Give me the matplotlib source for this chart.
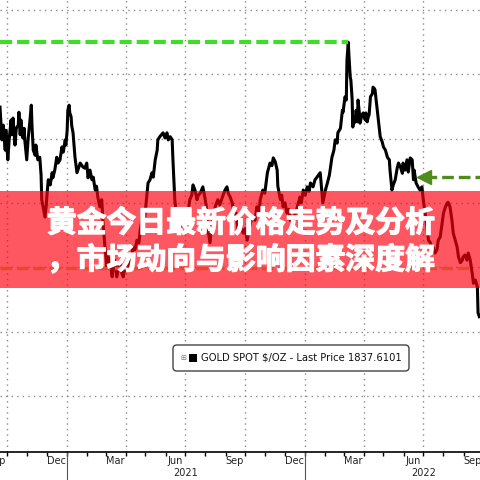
import matplotlib
matplotlib.use('Agg')
import matplotlib.pyplot as plt
import matplotlib.dates as mdates
import matplotlib.ticker as mticker
import matplotlib.patheffects as pe
from matplotlib.patches import Rectangle, FancyBboxPatch
import pandas as pd

# gold spot (days after start, $/oz)
start = pd.Timestamp('2020-09-20')
days = [0, 3, 5, 8, 9, 12, 14, 17, 18, 20, 23, 25, 28, 29, 31, 32, 35, 37, 38, 41,
        43, 46, 48, 49, 51, 54, 55, 58, 61, 63, 64, 67, 69,
        71, 72, 74, 77, 80, 81, 84, 87, 89, 92, 95, 97, 100, 101, 103, 104, 106, 107,
        109, 110, 112, 115, 118, 123,
        127, 130, 133, 135, 138, 141, 143, 146, 148, 150, 153, 156, 158, 161, 164, 166,
        169, 172, 173, 176, 179, 182, 184, 187, 189, 192, 195, 199, 201, 204, 207, 210,
        213, 215, 219, 222, 225, 227, 230, 233, 235, 238, 241, 242, 245,
        250, 253, 256, 258, 261, 264, 265, 268, 272, 273, 276, 279, 281, 284, 287, 291,
        294, 296, 299, 302, 304, 307, 311, 314, 318, 319, 322, 325, 328, 330, 334, 337,
        341, 345, 348, 350, 353, 356, 360, 362, 365,
        368, 370, 373, 376, 379, 382, 384, 388, 391, 394, 397, 399, 403, 406, 410, 414,
        417, 419, 422, 425, 426, 430, 432, 434, 437, 440, 443, 445, 449, 452, 456, 460,
        462, 465, 468, 471, 474, 476, 480, 483, 486, 491,
        495, 499, 502, 505, 509, 512, 514, 517, 518, 522, 525, 526, 529, 531, 532, 534,
        535, 537, 538, 540, 541, 542, 543, 545, 546, 548, 549, 551, 552, 555, 557, 560,
        561, 563, 565, 566, 568, 571, 572, 574, 575, 578, 581, 583, 586, 588, 591, 594,
        597, 598, 601, 603, 606, 609, 611, 614,
        617, 618, 621, 624, 626, 629, 632, 634, 635, 638, 641, 644, 647, 649, 652, 655,
        657, 660, 663, 664, 667, 670, 672, 675, 678, 680, 683, 686, 687, 690, 693, 695,
        698, 701, 703, 706, 709, 710, 713, 716, 718, 721, 724, 726, 729, 732, 733, 735]
prices = [1949, 1898, 1921, 1882, 1913, 1867, 1898, 1929, 1906, 1932, 1890, 1916, 1921, 1941,
          1906, 1929, 1901, 1916, 1898, 1867, 1898, 1929, 1952, 1921, 1882, 1874, 1890, 1867,
          1871, 1843, 1805, 1789, 1778,
          1797, 1812, 1836, 1828, 1847, 1839, 1851, 1871, 1862, 1867, 1887, 1879, 1898, 1890,
          1913, 1944, 1952, 1940, 1934, 1920, 1909, 1871, 1847, 1862,
          1856, 1854, 1862, 1839, 1851, 1836, 1840, 1820, 1826, 1809, 1794, 1805, 1769, 1731,
          1700, 1716, 1707, 1685, 1696, 1711, 1685, 1700, 1707, 1690, 1685, 1703, 1696, 1716,
          1711, 1731, 1727, 1742, 1738, 1758, 1784, 1778, 1809, 1831, 1836, 1847, 1840, 1867,
          1882, 1898, 1903,
          1909, 1901, 1909, 1898, 1903, 1898, 1871, 1805, 1769, 1778, 1758, 1773, 1769, 1784,
          1778, 1805, 1812, 1828, 1820, 1805, 1812, 1815, 1825, 1809, 1784, 1758, 1738, 1769,
          1784, 1794, 1805, 1797, 1809, 1820, 1825, 1815, 1809, 1800, 1778, 1784, 1758,
          1773, 1762, 1753, 1760, 1742, 1758, 1769, 1778, 1773, 1794, 1786, 1805, 1820, 1815,
          1847, 1862, 1858, 1870, 1864, 1851, 1826, 1805, 1812, 1794, 1800, 1784, 1790, 1773,
          1769, 1781, 1794, 1809, 1800, 1820, 1812, 1825, 1818, 1831, 1825, 1836, 1840, 1847,
          1800, 1820, 1831, 1843, 1871, 1882, 1898, 1893, 1909, 1916, 1944, 1941, 1965, 1960,
          2022, 2050, 2030, 1996, 1991, 1960, 1918, 1934, 1924, 1929, 1944, 1926, 1960, 1940,
          1924, 1937, 1940, 1929, 1940, 1926, 1935, 1937, 1965, 1970, 1980, 1978, 1976, 1949,
          1921, 1903, 1895, 1887, 1882, 1871, 1867, 1851, 1820, 1828, 1836, 1854, 1862, 1856,
          1846, 1862, 1851, 1867, 1848, 1870, 1867, 1836, 1851, 1831, 1825, 1820, 1825, 1805,
          1784, 1758, 1742, 1738, 1727, 1731, 1722, 1727, 1742, 1747, 1769, 1784, 1794, 1800,
          1801, 1794, 1773, 1753, 1742, 1731, 1716, 1707, 1711, 1716, 1719, 1711, 1722, 1711,
          1691, 1675, 1680, 1669, 1629, 1623]

end_day = 736
peak_level, peak_day = 2050, 534          # green dashed high
support_level, support_end = 1698, 721    # red dashed low
arrow_level, arrow_tip = 1840, 644        # green arrow

month_labels = ['Sep', 'Dec', 'Mar', 'Jun', 'Sep', 'Dec', 'Mar', 'Jun', 'Sep']
month_pos = ['2020-09-15', '2020-12-15', '2021-03-15', '2021-06-15', '2021-09-15',
             '2021-12-15', '2022-03-15', '2022-06-15', '2022-09-15']
year_labels = ['2021', '2022']
year_pos = ['2021-07-01', '2022-07-01']
year_breaks = ['2021-01-01', '2022-01-01']
legend_text = 'GOLD SPOT $/OZ - Last Price 1837.6101'
title_lines = ['黄金今日最新价格走势及分析', '，市场动向与影响因素深度解']

dates = start + pd.to_timedelta(days, unit='D')
d = lambda n: start + pd.Timedelta(days=n)

fig = plt.figure(figsize=(4.8, 4.8), dpi=100)
ax = fig.add_axes([0, 28 / 480, 1, 452 / 480])

ax.plot(dates, prices, color='black', lw=2.2, zorder=2)

# reference levels
ax.plot([d(0), d(peak_day)], [peak_level] * 2, color='#3fdc2a', lw=3,
        ls=(0, (2.9, 1.2)), zorder=2.5, solid_capstyle='butt')
ax.plot([d(arrow_tip + 8), d(end_day)], [arrow_level] * 2, color='#4f8c1e', lw=2.4,
        ls=(0, (3.5, 1.5)), zorder=2.5)
ax.plot([d(arrow_tip + 6)], [arrow_level], marker='<', ms=10, color='#4f8c1e',
        mec='#4f8c1e', zorder=2.6)

# red banner band
ax.add_patch(Rectangle((0, (452 - 288) / 452), 1, 97 / 452, transform=ax.transAxes,
                       facecolor=(1.0, 0.0, 0.06), alpha=0.66, lw=0, zorder=3))
ax.plot([d(0), d(support_end)], [support_level] * 2, color='#e8492c', lw=2.4,
        ls=(0, (3.5, 1.4)), zorder=4)

ax.set_xlim(d(0), d(end_day))
ax.set_ylim(1412.6, 2115.6)

ax.xaxis.set_major_locator(mdates.MonthLocator(bymonth=[1, 4, 7, 10]))
ax.xaxis.set_minor_locator(mdates.MonthLocator())
ax.xaxis.set_major_formatter(mticker.NullFormatter())
ax.yaxis.set_major_locator(mticker.MultipleLocator(100))
ax.yaxis.set_major_formatter(mticker.NullFormatter())
ax.tick_params(axis='x', which='both', direction='out', length=3, width=1, color='black')
ax.tick_params(axis='y', length=0)
ax.grid(True, which='major', color='#8a8a8a', lw=1, ls=(0, (1, 3)))

for s in ['top', 'left', 'right']:
    ax.spines[s].set_visible(False)
ax.spines['bottom'].set_linewidth(1.2)

for lab, pos in zip(month_labels, month_pos):
    ax.text(pd.Timestamp(pos), -0.019, lab, transform=ax.get_xaxis_transform(),
            ha='center', va='center', fontsize=7, color='#222222', clip_on=False)
for lab, pos in zip(year_labels, year_pos):
    ax.text(pd.Timestamp(pos), -0.047, lab, transform=ax.get_xaxis_transform(),
            ha='center', va='center', fontsize=7, color='#222222', clip_on=False)
for pos in year_breaks:
    ax.axvline(pd.Timestamp(pos), ymin=-28 / 452, ymax=0, color='#555555', lw=0.8,
               clip_on=False)

# legend box
fig.add_artist(FancyBboxPatch((173 / 480, 109 / 480), 236 / 480, 26 / 480,
                              boxstyle='round,pad=0,rounding_size=0.008',
                              transform=fig.transFigure, facecolor='white',
                              edgecolor='#444444', lw=1, zorder=5))
fig.add_artist(Rectangle((189 / 480, 118 / 480), 8 / 480, 8 / 480, transform=fig.transFigure,
                         facecolor='black', lw=0, zorder=6))
fig.text(183 / 480, 122 / 480, '⊞', fontsize=5, color='#777777', ha='center', va='center',
         zorder=6)
fig.text(201 / 480, 122 / 480, legend_text, fontsize=7.2, color='#111111',
         family=['Liberation Sans Narrow', 'DejaVu Sans'], ha='left', va='center', zorder=6)

for i, line in enumerate(title_lines):
    fig.text(0.502, 1 - (223 + 37 * i) / 480, line, ha='center', va='center',
             fontsize=21.5, fontweight='bold', color='white',
             family=['Noto Sans CJK SC', 'DejaVu Sans'], zorder=7,
             path_effects=[pe.withStroke(linewidth=0.9, foreground='white')])

fig.savefig('out.png', dpi=100)
